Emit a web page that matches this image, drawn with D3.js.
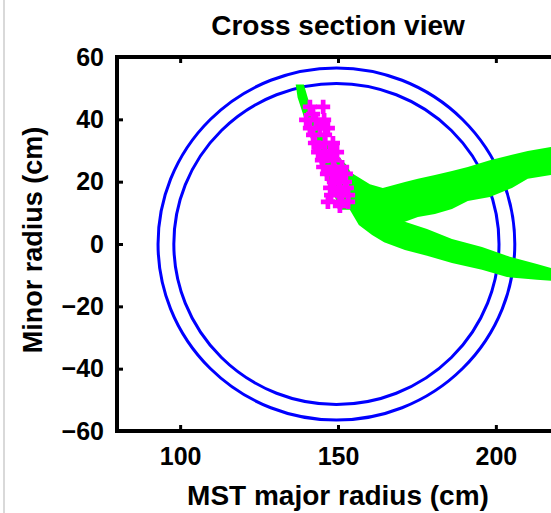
<!DOCTYPE html>
<html>
<head>
<meta charset="utf-8">
<script src="https://cdn.jsdelivr.net/npm/d3@7"></script>
<style>
  body { margin: 0; background: #fff; }
  text { font-family: "Liberation Sans", Arial, sans-serif; font-weight: bold; fill: #000; }
</style>
</head>
<body>
<div id="chart"></div>
<script>
// axis ticks
var xTicks = [100, 150, 200];
var yTicks = [-60, -40, -20, 0, 20, 40, 60];

// vessel wall (major radius center, two minor radii)
var wallCenter = 149.5;
var wallRadii = [51.5, 56.5];

// green traces: tail (by Z), upper branch and lower branch (by R)
var tailZ      = [51.2, 47, 42, 36, 30, 25, 20, 15, 11];
var tailRLeft  = [136.6, 137.2, 138.8, 140.6, 142.8, 144.5, 146.5, 149, 151];
var tailRRight = [139.2, 140.4, 141.8, 144.5, 148.5, 153, 155.5, 156, 156];

var upperR   = [153.8, 160.1, 164.2, 171.2, 175.3, 180.7, 186.1, 191.1, 198.1, 205.1, 210.1, 217.4, 220];
var upperTop = [23.1, 19.2, 18.0, 19.9, 20.9, 22.1, 23.4, 24.7, 26.9, 28.6, 29.8, 31.1, 31.5];
var upperBot = [12.5, 6.1, 5.1, 7.1, 8.7, 9.6, 11.2, 13.8, 15.1, 18.0, 20.9, 22.1, 22.5];

var lowerR   = [153.8, 156.6, 160.8, 164.6, 171.2, 178.2, 186.1, 195.6, 203.5, 213.0, 220];
var lowerTop = [15.7, 13, 10.9, 9.3, 7.1, 4.8, 1.6, -1.0, -3.8, -6.4, -8.5];
var lowerBot = [10.9, 6.1, 2.9, 0.6, -1.9, -3.8, -6.1, -8.3, -10.6, -11.5, -12];

// magenta points
var magR = [141.1, 145.3, 142.1, 139.9, 143.0, 145.6, 141.1, 144.3, 146.8, 142.1, 145.9,
            142.7, 145.9, 148.4, 143.7, 147.5, 149.7, 144.9, 148.7, 145.3, 148.4, 151.3,
            146.5, 150.6, 152.5, 148.7, 152.2, 147.5, 150.6, 152.8, 147.8, 151.3, 153.2,
            146.8, 150.6, 153.2, 150.6, 143.8, 146.6, 149.5, 150.2, 149.0];
var magZ = [44, 44, 41.7, 39.8, 39.8, 39.8, 37.2, 37.2, 37.2, 35, 35,
            32.4, 32.4, 32.4, 29.5, 29.5, 29.5, 26.9, 26.9, 24.7, 24.7, 24.7,
            22.5, 22.5, 22.5, 19.9, 19.9, 18, 18, 18, 15.7, 15.7, 15.7,
            13.5, 13.5, 13.5, 12.2, 31, 28.2, 21.2, 16.8, 23.6];

var width = 551, height = 513;
var margin = {top: 57, right: -8, bottom: 82, left: 117};

var svg = d3.select("#chart").append("svg")
    .attr("width", width)
    .attr("height", height);

// faint figure border at the left
svg.append("line")
    .attr("x1", 4).attr("x2", 4)
    .attr("y1", 0).attr("y2", height)
    .attr("stroke", "#d9d9d9")
    .attr("stroke-width", 2);

var x = d3.scaleLinear().domain([80, 220]).range([margin.left, width - margin.right]);
var y = d3.scaleLinear().domain([-60, 60]).range([height - margin.bottom, margin.top]);

svg.append("defs").append("clipPath").attr("id", "clip")
  .append("rect")
    .attr("x", x(80)).attr("y", y(60))
    .attr("width", x(220) - x(80)).attr("height", y(-60) - y(60));

var plot = svg.append("g").attr("clip-path", "url(#clip)");

// vessel wall
plot.selectAll("ellipse")
  .data(wallRadii)
  .enter()
  .append("ellipse")
    .attr("cx", x(wallCenter))
    .attr("cy", y(0))
    .attr("rx", function(r) { return x(wallCenter + r) - x(wallCenter); })
    .attr("ry", function(r) { return y(0) - y(r); })
    .attr("fill", "none")
    .attr("stroke", "#0000ff")
    .attr("stroke-width", 3);

// green traces
var tail = tailZ.map(function(z, i) { return [z, tailRLeft[i], tailRRight[i]]; });
var upper = upperR.map(function(r, i) { return [r, upperTop[i], upperBot[i]]; });
var lower = lowerR.map(function(r, i) { return [r, lowerTop[i], lowerBot[i]]; });

var areaByR = d3.area()
    .x(function(d) { return x(d[0]); })
    .y0(function(d) { return y(d[2]); })
    .y1(function(d) { return y(d[1]); });

var areaByZ = d3.area()
    .y(function(d) { return y(d[0]); })
    .x0(function(d) { return x(d[1]); })
    .x1(function(d) { return x(d[2]); });

plot.append("path").attr("d", areaByZ(tail)).attr("fill", "#00ff00");
plot.append("path").attr("d", areaByR(upper)).attr("fill", "#00ff00");
plot.append("path").attr("d", areaByR(lower)).attr("fill", "#00ff00");

// magenta points
var cross = d3.symbol().type(d3.symbolCross).size(110);
plot.selectAll(".mag")
  .data(magR.map(function(r, i) { return [r, magZ[i]]; }))
  .enter()
  .append("path")
    .attr("class", "mag")
    .attr("transform", function(d) { return "translate(" + x(d[0]) + "," + y(d[1]) + ")"; })
    .attr("d", cross)
    .attr("fill", "#ff00ff");

// axes (ticks pointing inward)
var xAxisB = svg.append("g")
    .attr("transform", "translate(0," + y(-60) + ")")
    .call(d3.axisBottom(x).tickValues(xTicks).tickSizeInner(-6).tickSizeOuter(0).tickPadding(16));
var xAxisT = svg.append("g")
    .attr("transform", "translate(0," + y(60) + ")")
    .call(d3.axisTop(x).tickValues(xTicks).tickSizeInner(-6).tickSizeOuter(0).tickFormat(""));
var yAxisL = svg.append("g")
    .attr("transform", "translate(" + x(80) + ",0)")
    .call(d3.axisLeft(y).tickValues(yTicks).tickSizeInner(-6).tickSizeOuter(0).tickPadding(13));

[xAxisB, xAxisT, yAxisL].forEach(function(a) {
  a.select(".domain").remove();
  a.selectAll(".tick line").attr("stroke", "#000").attr("stroke-width", 3);
  a.selectAll("text").attr("font-size", 25).attr("font-family", null);
});

// frame
svg.append("path")
    .attr("d", "M" + x(220) + "," + y(-60) + "H" + x(80) + "V" + y(60) + "H" + x(220))
    .attr("fill", "none")
    .attr("stroke", "#000")
    .attr("stroke-width", 4)
    .attr("stroke-linejoin", "miter");

// titles
svg.append("text")
    .attr("x", 338).attr("y", 35)
    .attr("text-anchor", "middle")
    .attr("font-size", 28)
    .text("Cross section view");

svg.append("text")
    .attr("x", 338).attr("y", 505)
    .attr("text-anchor", "middle")
    .attr("font-size", 28)
    .text("MST major radius (cm)");

svg.append("text")
    .attr("transform", "translate(42," + 240 + ")rotate(-90)")
    .attr("text-anchor", "middle")
    .attr("font-size", 27)
    .text("Minor radius (cm)");
</script>
</body>
</html>
